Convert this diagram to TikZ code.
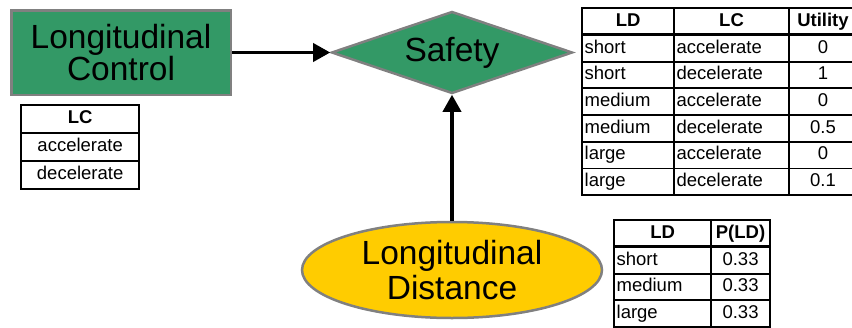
\documentclass[tikz,border=0pt]{standalone}
\usepackage{fontspec}
\setmainfont{Liberation Sans}
\usepackage{tikz}
\usetikzlibrary{arrows.meta,positioning,shapes.geometric,matrix}
\definecolor{NodeGreen}{HTML}{339966}
\definecolor{NodeYellow}{HTML}{FFCC00}
\definecolor{NodeRim}{HTML}{808080}
\newcommand\cellfont{\fontsize{18.5}{22}\selectfont}
\newcommand\bigfont{\fontsize{33.5}{32}\selectfont}

\begin{document}
\begin{tikzpicture}[x=1pt,y=-1pt,>={Triangle[length=17pt,width=18pt]},
    cell/.style={draw,line width=0.9pt,inner xsep=2pt,inner ysep=0pt,outer sep=0pt,
                 minimum height=25.8pt,text height=13.5pt,text depth=4pt,font=\cellfont},
    table/.style={matrix of nodes,inner sep=0pt,column sep=0pt,row sep=0pt,nodes={cell},
                  row 1/.style={nodes={font=\cellfont\bfseries,align=center}}},
    frame/.style={line width=2pt}]
  \useasboundingbox (0,0) rectangle (852,327);

  \node[draw=NodeRim,fill=NodeGreen,line width=2.5pt,minimum width=219.5pt,
        minimum height=84.5pt,align=center,font=\bigfont] (lcontrol) at (121,52.5)
        {Longitudinal\\Control};
  \node[diamond,draw=NodeRim,fill=NodeGreen,line width=2.5pt,inner sep=0pt,aspect=2.86,
        minimum width=241pt,minimum height=82pt,font=\bigfont] (safety) at (452,52.5)
        {Safety};
  \node[ellipse,draw=NodeRim,fill=NodeYellow,line width=2.5pt,inner sep=0pt,
        minimum width=300pt,minimum height=96pt,align=center,
        font=\fontsize{33.5}{35}\selectfont] (ldist) at (452,270)
        {Longitudinal\\Distance};

  \draw[->,line width=3.5pt] (lcontrol) -- (safety);
  \draw[->,line width=3.5pt] (ldist.north) -- (safety.south);

  % tables
  \matrix (lctab) [table,anchor=north west,
      column 1/.style={nodes={text width=113pt,align=center,minimum height=27.1pt}}] at (21,105) {
    LC \\
    accelerate \\
    decelerate \\
  };
  \draw[frame] (lctab.north west) rectangle (lctab.south east);
  \draw[frame] (lctab-1-1.south west) -- (lctab-1-1.south east);

  \matrix (utiltab) [table,anchor=north west,
      column 1/.style={nodes={text width=87pt,align=left}},
      column 2/.style={nodes={text width=110pt,align=left}},
      column 3/.style={nodes={text width=63pt,align=center}}] at (582,8) {
    LD & LC & Utility \\
    short & accelerate & 0 \\
    short & decelerate & 1 \\
    medium & accelerate & 0 \\
    medium & decelerate & 0.5 \\
    large & accelerate & 0 \\
    large & decelerate & 0.1 \\
  };
  \draw[frame] (utiltab.north west) rectangle (utiltab.south east);
  \draw[frame] (utiltab-1-1.south west) -- (utiltab-1-3.south east);

  \matrix (ldtab) [table,anchor=north west,
      column 1/.style={nodes={text width=92pt,align=left}},
      column 2/.style={nodes={text width=54pt,align=center}}] at (614,220) {
    LD & P(LD) \\
    short & 0.33 \\
    medium & 0.33 \\
    large & 0.33 \\
  };
  \draw[frame] (ldtab.north west) rectangle (ldtab.south east);
  \draw[frame] (ldtab-1-1.south west) -- (ldtab-1-2.south east);
\end{tikzpicture}
\end{document}
